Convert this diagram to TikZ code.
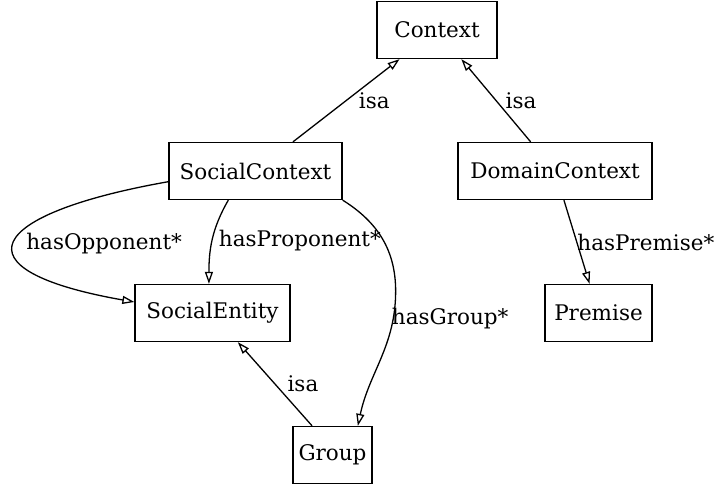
\documentclass[tikz,border=0pt]{standalone}
\usepackage{fontspec}
\setmainfont{DejaVu Serif}
\usetikzlibrary{arrows.meta}
\begin{document}
\begin{tikzpicture}[x=1pt,y=1pt,line width=1.3pt,>={Triangle[open,length=12pt,width=8pt]},
    class node/.style={rectangle,draw,minimum height=57pt,inner xsep=0pt,font=\fontsize{21.5}{26}\selectfont},
    edge label/.style={inner sep=0pt,font=\fontsize{21.5}{26}\selectfont}]
            \useasboundingbox (0,0) rectangle (717,489);

            \node[class node, minimum width=120pt] at (437, 459) (ctx) {Context};
            \node[class node, minimum width=173pt] at (255.5, 318) (sc) {SocialContext};
            \node[class node, minimum width=194pt] at (555, 318) (dc) {DomainContext};
            \node[class node, minimum width=155pt] at (212.5, 176) (se) {SocialEntity};
            \node[class node, minimum width=107pt] at (598.5, 176) (pr) {Premise};
            \node[class node, minimum width=79pt] at (332.5, 34) (gr) {Group};

            \path[->] (sc) edge node [edge label, right=12pt] {isa} (ctx);
            \path[->] (dc) edge node [edge label, right=9pt] {isa} (ctx);
            \path[->] (dc) edge node [edge label, right=0pt] {hasPremise*} (pr);
            \path[->] (gr.125) edge node [edge label, right=12pt] {isa} (se.-49);

            \path[->] (sc.227) edge[out=240, in=90] node [edge label, right=6pt] {hasProponent*} (se.97);
            \path[->] (sc.187) edge[out=190, in=170, distance=185pt] node [edge label, right=11pt, yshift=-2pt] {hasOpponent*} (se.172);
            \draw[->] (sc.south east) to[out=-32, in=90] ++(53,-91)
                to[out=-90, in=78] node [edge label, pos=.18, right=-2pt] {hasGroup*} (gr.49);
        \end{tikzpicture}
\end{document}
